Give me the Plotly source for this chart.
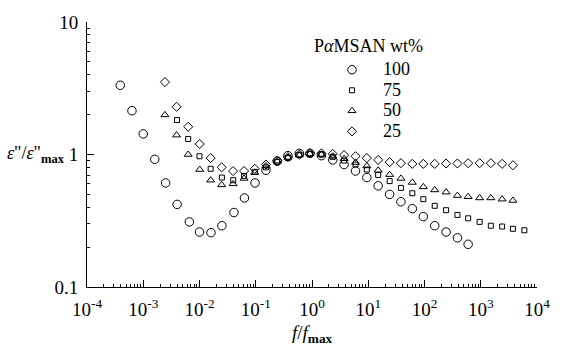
import plotly.graph_objects as go

# Normalized dielectric loss vs normalized frequency for PαMSAN blends
f_100 = [3.9e-4, 6.3e-4, 1.0e-3, 1.6e-3, 2.5e-3, 4.0e-3, 6.6e-3, 1.0e-2, 1.6e-2, 2.5e-2,
         4.1e-2, 6.3e-2, 9.7e-2, 0.152, 0.241, 0.373, 0.596, 0.92, 1.47, 2.34,
         3.72, 5.94, 9.44, 15.0, 24.0, 38.1, 60.8, 95.3, 152, 242, 385, 597]
e_100 = [3.33, 2.14, 1.43, 0.92, 0.61, 0.42, 0.31, 0.26, 0.257, 0.29,
         0.365, 0.47, 0.61, 0.76, 0.89, 0.98, 1.02, 1.02, 0.98, 0.91,
         0.84, 0.75, 0.67, 0.58, 0.50, 0.44, 0.39, 0.34, 0.29, 0.26, 0.235, 0.21]

f_75 = [3.98e-3, 6.3e-3, 1.0e-2, 1.58e-2, 2.5e-2, 3.98e-2, 6.2e-2, 9.6e-2, 0.152, 0.241,
        0.373, 0.596, 0.92, 1.47, 2.34, 3.72, 5.94, 9.44, 15.0, 24.0,
        38.1, 60.8, 95.3, 152, 242, 385, 597, 955, 1510, 2400, 3730, 5960]
e_75 = [1.82, 1.31, 0.97, 0.78, 0.67, 0.64, 0.69, 0.74, 0.80, 0.88,
        0.94, 0.99, 1.01, 1.00, 0.96, 0.90, 0.84, 0.77, 0.70, 0.63,
        0.56, 0.51, 0.46, 0.41, 0.38, 0.35, 0.33, 0.31, 0.29, 0.286, 0.275, 0.268]

f_50 = [2.43e-3, 3.92e-3, 6.3e-3, 1.01e-2, 1.58e-2, 2.48e-2, 3.95e-2, 6.2e-2, 9.6e-2, 0.152,
        0.241, 0.373, 0.596, 0.92, 1.47, 2.34, 3.72, 5.94, 9.44, 15.0,
        24.0, 38.1, 60.8, 95.3, 152, 242, 385, 597, 955, 1510, 2400, 3730]
e_50 = [1.99, 1.40, 1.00, 0.77, 0.64, 0.59, 0.60, 0.66, 0.73, 0.82,
        0.89, 0.95, 0.99, 1.01, 1.00, 0.97, 0.93, 0.87, 0.82, 0.76,
        0.705, 0.66, 0.615, 0.57, 0.54, 0.52, 0.49, 0.48, 0.47, 0.47, 0.46, 0.45]

f_25 = f_50
e_25 = [3.52, 2.29, 1.62, 1.20, 0.94, 0.80, 0.75, 0.75, 0.78, 0.84,
        0.90, 0.955, 1.00, 1.02, 1.02, 1.01, 0.99, 0.97, 0.94, 0.91,
        0.875, 0.86, 0.85, 0.85, 0.85, 0.855, 0.855, 0.86, 0.86, 0.86, 0.85, 0.83]

series = [
    ("100", f_100, e_100, "circle-open", 8.5),
    ("75", f_75, e_75, "square-open", 5),
    ("50", f_50, e_50, "triangle-up-open", 7),
    ("25", f_25, e_25, "diamond-open", 7),
]

x_ticks = [1e-4, 1e-3, 1e-2, 1e-1, 1, 10, 100, 1000, 1e4]
x_ticktext = ["10<sup>-4</sup>", "10<sup>-3</sup>", "10<sup>-2</sup>", "10<sup>-1</sup>",
              "10<sup>0</sup>", "10<sup>1</sup>", "10<sup>2</sup>", "10<sup>3</sup>", "10<sup>4</sup>"]
y_ticks = [0.1, 1, 10]
y_ticktext = ["0.1", "1", "10"]

FONT = "Liberation Serif, Times New Roman, serif"
LEGEND_PX = 18


def minor_log_ticks(lo_exp, hi_exp):
    return [m * 10.0 ** e for e in range(lo_exp, hi_exp) for m in range(2, 10)]


fig = go.Figure()
for name, fx, ey, sym, sz in series:
    fig.add_trace(go.Scatter(
        x=fx, y=ey, mode="markers",
        name=f'<span style="font-size:{LEGEND_PX}px">{name}</span>',
        marker=dict(symbol=sym, size=sz, color="black", line=dict(width=1, color="black")),
    ))

axis_common = dict(
    type="log", showline=True, linecolor="black", linewidth=1, mirror=False,
    showgrid=False, zeroline=False, ticks="inside", ticklen=7, tickwidth=1,
    tickcolor="black", tickfont=dict(family=FONT, size=19, color="black"),
    ticklabeloverflow="allow",
)

fig.update_xaxes(range=[-4, 4], tickmode="array", tickvals=x_ticks, ticktext=x_ticktext,
                 ticklabelstandoff=5,
                 minor=dict(tickmode="array", tickvals=minor_log_ticks(-4, 4), ticks="inside",
                            ticklen=3, tickwidth=1, tickcolor="black", showgrid=False),
                 **axis_common)
fig.update_yaxes(range=[-1, 1], tickmode="array", tickvals=y_ticks, ticktext=y_ticktext,
                 ticklabelstandoff=4,
                 minor=dict(tickmode="array", tickvals=minor_log_ticks(-1, 1), ticks="inside",
                            ticklen=3, tickwidth=1, tickcolor="black", showgrid=False),
                 **axis_common)

fig.update_layout(
    width=562, height=358,
    margin=dict(l=87, r=13, t=20, b=71),
    paper_bgcolor="white", plot_bgcolor="white",
    font=dict(family=FONT, color="black"),
    showlegend=True,
    legend=dict(
        x=0.52, y=0.8775, xanchor="left", yanchor="top",
        bgcolor="rgba(0,0,0,0)", borderwidth=0,
        font=dict(family=FONT, size=13.5, color="black"),
        itemwidth=52, tracegroupgap=0,
    ),
    annotations=[
        dict(text="P<i>α</i>MSAN wt%", xref="paper", yref="paper",
             x=(318 - 87) / 462, y=1 - (44 - 20) / 267, xanchor="left", yanchor="middle",
             showarrow=False, font=dict(family=FONT, size=18, color="black")),
        dict(text="<i>ε</i>\"/<i>ε</i>\"<sub><b>max</b></sub>", xref="paper", yref="paper",
             x=-0.045, y=0.5, xanchor="right", yanchor="middle", showarrow=False,
             font=dict(family=FONT, size=18, color="black")),
        dict(text="<i>f</i>/<i>f</i><sub><b>max</b></sub>", xref="paper", yref="paper",
             x=0.5, y=-0.125, xanchor="center", yanchor="top", showarrow=False,
             font=dict(family=FONT, size=19, color="black")),
    ],
)

fig.write_html("out.html")
